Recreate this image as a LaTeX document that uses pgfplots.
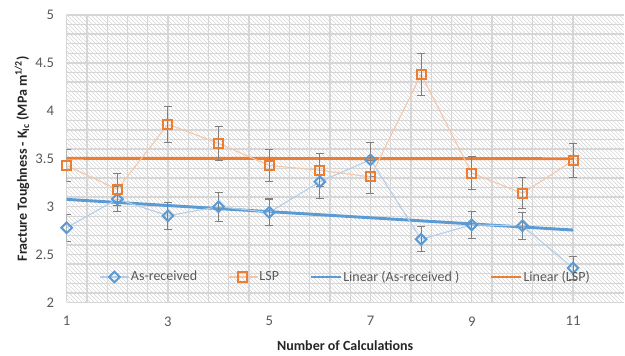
\documentclass[border=0pt]{standalone}
\usepackage{pgfplots}
\pgfplotsset{compat=1.18}
\usepackage{fontspec}
\setmainfont{Carlito}
\usetikzlibrary{patterns}
\definecolor{cblue}{HTML}{5B9BD5}
\definecolor{corange}{HTML}{ED7D31}
\definecolor{lblue}{HTML}{B4CDE8}
\definecolor{lorange}{HTML}{F6C6A6}
\definecolor{tickgray}{HTML}{595959}
\definecolor{gridgray}{HTML}{D6D6D6}
\definecolor{errgray}{HTML}{7F7F7F}
\begin{document}
\begin{tikzpicture}
\begin{axis}[
  scale only axis,
  width=417.7pt, height=215.6pt,
  xmin=1, xmax=12, ymin=2, ymax=5,
  xtick={1,3,5,7,9,11},
  ytick={2,2.5,3,3.5,4,4.5,5},
  yticklabels={2,2.5,3,3.5,4,4.5,5},
  minor x tick num=4,
  minor y tick num=4,
  grid=both,
  major grid style={gridgray, line width=1pt},
  minor grid style={gridgray, line width=1pt},
  major tick length=0pt, minor tick length=0pt,
  axis line style={draw=none},
  axis background/.style={pattern=north west lines, pattern color=black!16},
  /pgf/number format/assume math mode=true,
  ticklabel style={font=\fontsize{11}{13}\selectfont, text=tickgray},
  xticklabel style={yshift=-7pt},
  yticklabel style={xshift=-6pt},
  xlabel={\textbf{Number of Calculations}},
  ylabel={\textbf{Fracture Toughness - K\textsubscript{Ic} (MPa m\textsuperscript{1/2})}},
  label style={font=\fontsize{10.5}{12}\selectfont, text=black!85},
  xlabel style={at={(axis description cs:0.5,0)}, anchor=center, yshift=-32pt},
  ylabel style={at={(axis description cs:0,0.5)}, anchor=center, yshift=33.5pt},
  legend columns=4,
  legend style={at={(axis description cs:0.5,0.0887)}, anchor=center, draw=none, fill=none,
    font=\fontsize{10.5}{12}\selectfont, text=tickgray,
    /tikz/every even column/.append style={column sep=22pt},
    nodes={inner sep=1pt}},
  legend image code/.code={\draw[mark repeat=2,mark phase=2,#1] plot coordinates {(0pt,0pt) (11pt,0pt) (22pt,0pt)};},
]
% trend lines (drawn first, under markers)
\addplot[cblue, line width=2.2pt, forget plot] coordinates {(1,3.076) (11,2.756)};
\addplot[corange, line width=2.2pt, forget plot] coordinates {(1,3.505) (11,3.500)};
% As-received
\addplot[lblue, line width=0.8pt, mark=square, mark size=2.8pt,
  mark options={draw=cblue, fill=white, line width=1.5pt, rotate=45},
  error bars/.cd, y dir=both, y explicit,
  error bar style={errgray, line width=0.8pt},
  error mark options={errgray, line width=0.8pt, mark size=3pt, rotate=90}]
coordinates {
 (1,2.78) +- (0,0.14)
 (2,3.08) +- (0,0.13)
 (3,2.905) +- (0,0.14)
 (4,3.00) +- (0,0.15)
 (5,2.94) +- (0,0.14)
 (6,3.26) +- (0,0.17)
 (7,3.49) +- (0,0.18)
 (8,2.66) +- (0,0.13)
 (9,2.81) +- (0,0.14)
 (10,2.80) +- (0,0.14)
 (11,2.36) +- (0,0.12)
};
\addlegendentry{As-received}
% LSP
\addplot[lorange, line width=0.8pt, mark=square, mark size=3.4pt,
  mark options={draw=corange, fill=white, line width=1.5pt},
  error bars/.cd, y dir=both, y explicit,
  error bar style={errgray, line width=0.8pt},
  error mark options={errgray, line width=0.8pt, mark size=3pt, rotate=90}]
coordinates {
 (1,3.43) +- (0,0.17)
 (2,3.18) +- (0,0.17)
 (3,3.86) +- (0,0.19)
 (4,3.66) +- (0,0.18)
 (5,3.43) +- (0,0.17)
 (6,3.38) +- (0,0.17)
 (7,3.31) +- (0,0.17)
 (8,4.38) +- (0,0.22)
 (9,3.35) +- (0,0.17)
 (10,3.14) +- (0,0.16)
 (11,3.48) +- (0,0.18)
};
\addlegendentry{LSP}
\addlegendimage{cblue, line width=2.2pt}
\addlegendentry{Linear (As-received )}
\addlegendimage{corange, line width=2.2pt}
\addlegendentry{Linear (LSP)}
\end{axis}
\pgfresetboundingbox
\path ([shift={(-50pt,-40.1pt)}]current axis.south west) rectangle ([shift={(1pt,11.25pt)}]current axis.north east);
\end{tikzpicture}
\end{document}
